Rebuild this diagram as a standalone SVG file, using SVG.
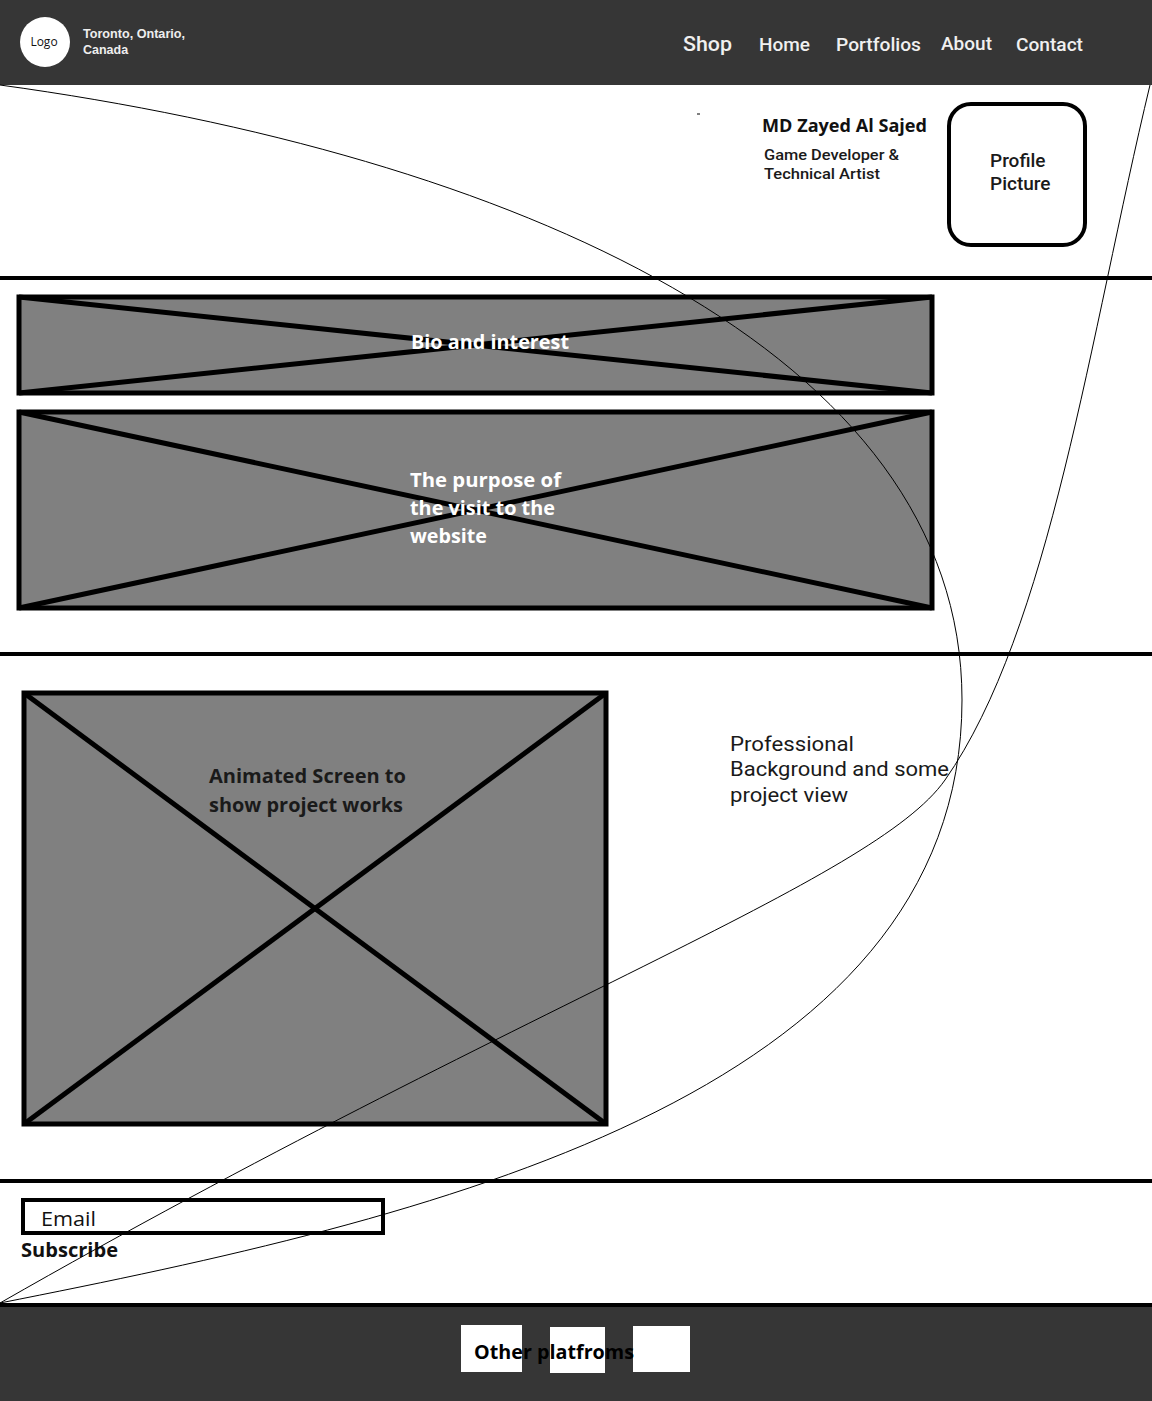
<svg xmlns="http://www.w3.org/2000/svg" width="1152" height="1401" viewBox="0 0 1152 1401">
<style>
.bar{fill:#363636}
.rule{stroke:#000;stroke-width:4}
.ph{fill:#808080;stroke:#000;stroke-width:5}
.x{stroke:#000;stroke-width:5}
.nav{font-family:Roboto,"Liberation Sans",sans-serif;font-weight:500;fill:#f0f0f0}
.wt{font-family:"Open Sans","Liberation Sans",sans-serif;font-weight:700;fill:#fff;font-size:20px}
.dk{font-family:"Open Sans","Liberation Sans",sans-serif;font-weight:700;fill:#1a1a1a;font-size:20px}
.rb{font-family:Roboto,"Liberation Sans",sans-serif;fill:#1a1a1a}
.curve{fill:none;stroke:#000;stroke-width:1}
</style>
<rect width="1152" height="1401" fill="#fff"/>
<g id="header">
<rect class="bar" x="0" y="0" width="1152" height="85"/>
<circle cx="45" cy="42" r="25" fill="#fff"/>
<text x="44" y="46" text-anchor="middle" font-family="'Open Sans','Liberation Sans',sans-serif" font-size="12" fill="#111">Logo</text>
<text x="83" y="38" font-family="'Liberation Sans',sans-serif" font-weight="700" font-size="12.5" fill="#eee" textLength="102" lengthAdjust="spacingAndGlyphs">Toronto, Ontario,</text>
<text x="83" y="54" font-family="'Liberation Sans',sans-serif" font-weight="700" font-size="12.5" fill="#eee">Canada</text>
<text class="nav" x="683" y="51" font-size="21" textLength="49" lengthAdjust="spacingAndGlyphs">Shop</text>
<text class="nav" x="759" y="51" font-size="18" textLength="51" lengthAdjust="spacingAndGlyphs">Home</text>
<text class="nav" x="836" y="51" font-size="18" textLength="85" lengthAdjust="spacingAndGlyphs">Portfolios</text>
<text class="nav" x="941" y="50" font-size="18.5" textLength="51" lengthAdjust="spacingAndGlyphs">About</text>
<text class="nav" x="1016" y="51" font-size="18" textLength="67" lengthAdjust="spacingAndGlyphs">Contact</text>
</g>
<g id="intro">
<line x1="697" y1="114" x2="700" y2="114" stroke="#000" stroke-width="1"/>
<text x="762" y="132" font-family="'Open Sans','Liberation Sans',sans-serif" font-weight="700" font-size="17.5" fill="#111" textLength="165" lengthAdjust="spacingAndGlyphs">MD Zayed Al Sajed</text>
<text class="rb" x="764" y="160" font-size="15" font-weight="500" textLength="135" lengthAdjust="spacingAndGlyphs">Game Developer &amp;</text>
<text class="rb" x="764" y="179" font-size="15" font-weight="500" textLength="116" lengthAdjust="spacingAndGlyphs">Technical Artist</text>
</g>
<g id="profile-picture">
<rect x="949" y="104" width="136" height="141" rx="22" fill="#fff" stroke="#000" stroke-width="4"/>
<text class="rb" x="990" y="167" font-size="19" font-weight="500">Profile</text>
<text class="rb" x="990" y="190" font-size="19" font-weight="500">Picture</text>
</g>
<g id="rules">
<line class="rule" x1="0" y1="278" x2="1152" y2="278"/>
<line class="rule" x1="0" y1="654" x2="1152" y2="654"/>
<line class="rule" x1="0" y1="1181" x2="1152" y2="1181"/>
<line class="rule" x1="0" y1="1305" x2="1152" y2="1305"/>
</g>
<g id="bio">
<rect class="ph" x="19" y="297" width="913" height="96"/>
<line class="x" x1="19" y1="297" x2="932" y2="393"/>
<line class="x" x1="19" y1="393" x2="932" y2="297"/>
<text class="wt" x="411" y="349" textLength="158" lengthAdjust="spacingAndGlyphs">Bio and interest</text>
</g>
<g id="purpose">
<rect class="ph" x="19" y="412" width="913" height="196"/>
<line class="x" x1="19" y1="412" x2="932" y2="608"/>
<line class="x" x1="19" y1="608" x2="932" y2="412"/>
<text class="wt" x="410" y="487" textLength="151" lengthAdjust="spacingAndGlyphs">The purpose of</text>
<text class="wt" x="410" y="515" textLength="145" lengthAdjust="spacingAndGlyphs">the visit to the</text>
<text class="wt" x="410" y="543" textLength="77" lengthAdjust="spacingAndGlyphs">website</text>
</g>
<g id="animated-screen">
<rect class="ph" x="24" y="693" width="582" height="431"/>
<line class="x" x1="24" y1="693" x2="606" y2="1124"/>
<line class="x" x1="24" y1="1124" x2="606" y2="693"/>
<text class="dk" x="209" y="783" textLength="197" lengthAdjust="spacingAndGlyphs">Animated Screen to</text>
<text class="dk" x="209" y="812" textLength="194" lengthAdjust="spacingAndGlyphs">show project works</text>
</g>
<g id="professional">
<text class="rb" x="730" y="751" font-size="20" textLength="124" lengthAdjust="spacingAndGlyphs">Professional</text>
<text class="rb" x="730" y="776" font-size="20" textLength="219" lengthAdjust="spacingAndGlyphs">Background and some</text>
<text class="rb" x="730" y="802" font-size="20" textLength="118" lengthAdjust="spacingAndGlyphs">project view</text>
</g>
<g id="subscribe">
<rect x="23" y="1200" width="360" height="33" fill="#fff" stroke="#000" stroke-width="4"/>
<text x="41" y="1226" font-family="'Open Sans','Liberation Sans',sans-serif" font-size="20" fill="#111" textLength="55" lengthAdjust="spacingAndGlyphs">Email</text>
<text x="21" y="1257" font-family="'Open Sans','Liberation Sans',sans-serif" font-weight="700" font-size="20" fill="#111" textLength="97" lengthAdjust="spacingAndGlyphs">Subscribe</text>
</g>
<g id="footer">
<rect class="bar" x="0" y="1307" width="1152" height="94"/>
<rect x="461" y="1325" width="61" height="47" fill="#fff"/>
<rect x="550" y="1327" width="55" height="46" fill="#fff"/>
<rect x="633" y="1326" width="57" height="46" fill="#fff"/>
<text x="474" y="1359" font-family="'Open Sans','Liberation Sans',sans-serif" font-weight="700" font-size="20" fill="#000" textLength="160" lengthAdjust="spacingAndGlyphs">Other platfroms</text>
</g>
<g id="connectors">
<path class="curve" d="M0,85 C510,155 962,350 962,700 C962,1100 420,1220 0,1303"/>
<path class="curve" d="M1150,85 C1090,335 1050,630 945,780 C875,880 525,1003 0,1303"/>
</g>
</svg>
